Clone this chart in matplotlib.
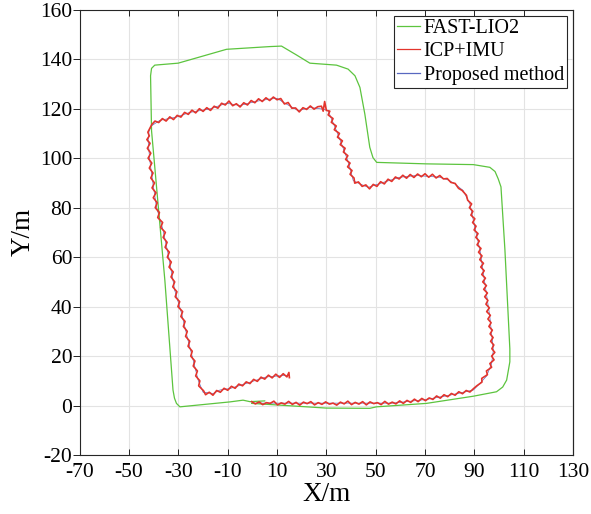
import matplotlib
matplotlib.use("Agg")
from matplotlib import pyplot as plt

plt.rcParams['font.family'] = ['Liberation Serif', 'DejaVu Serif']
plt.rcParams['axes.unicode_minus'] = False

# FAST-LIO2 trajectory
fast_x = [-0.3, 11.0, 30.0, 47.6, 50.3, 70.6, 89.6, 99.0, 101.5, 103.1, 104.4, 104.4, 102.4,
          100.8, 99.7, 98.4, 96.3, 89.6, 70.6, 50.4, 48.9, 47.6, 45.6, 43.6, 41.6, 38.8, 34.1,
          23.3, 17.9, 11.8, 7.1, -10.5, -30.1, -39.6, -40.9, -41.3, -40.9, -35.5, -32.2, -31.6,
          -30.8, -29.4, -9.1, -3.8, -1.0, 5.0]
fast_y = [0.9, 0.2, -1.0, -1.1, -0.5, 0.9, 3.8, 5.6, 7.5, 10.3, 17.7, 22.9, 63.0,
          88.4, 91.6, 94.6, 96.3, 97.4, 97.7, 98.3, 100.2, 104.4, 117.8, 128.6, 133.3, 136.0, 137.6,
          138.4, 141.7, 145.3, 145.1, 144.0, 138.4, 137.6, 136.3, 133.3, 111.1, 50.6, 6.3, 3.0,
          0.9, -0.5, 1.5, 2.2, 1.6, 1.9]

# ICP+IMU trajectory (noisy), segment by segment
icp_bottom_x = [-0.3, 1.2, 2.7, 4.2, 5.7, 7.2, 8.7, 10.2, 11.7, 13.2, 14.7, 16.2, 17.7, 19.2,
                20.7, 22.2, 23.7, 25.2, 26.7, 28.2, 29.7, 31.2, 32.7, 34.2, 35.7, 37.2, 38.7,
                40.2, 41.7, 43.2, 44.7, 46.2, 47.7, 49.2, 50.7, 52.2, 53.7, 55.2, 56.7, 58.2,
                59.7, 61.2, 62.7, 64.2, 65.7, 67.2, 68.7, 70.2, 71.7, 73.2, 74.7, 76.2, 77.7,
                79.2, 80.7, 82.2, 83.7, 85.2, 86.7, 88.2, 89.7]
icp_bottom_y = [1.6, 0.7, 1.5, 0.4, 1.2, 0.9, 1.8, 0.3, 1.1, 0.6,
                1.7, 0.5, 1.3, 0.2, 1.4, 0.8, 1.6, 0.3, 1.2, 0.5,
                1.5, 0.6, 1.0, 0.2, 1.4, 0.7, 1.8, 0.4, 1.3, 0.6,
                1.6, 0.3, 1.5, 0.8, 1.2, 0.4, 1.7, 0.6, 1.4, 0.7,
                1.9, 0.9, 2.1, 1.3, 2.6, 1.6, 2.9, 2.0, 3.1, 2.5,
                3.9, 3.0, 4.4, 3.6, 4.9, 4.2, 5.6, 4.8, 6.1, 5.5, 6.9]

icp_right_x = [91.0, 93.1, 93.0, 95.3, 94.9, 97.0, 96.3, 98.0, 97.0, 98.3, 97.1, 97.9, 96.6,
               97.6, 96.4, 97.3, 95.9, 96.8, 95.5, 96.5, 95.0, 96.1, 94.7, 95.5, 94.2, 95.3,
               93.8, 94.9, 93.4, 94.5, 93.0, 94.0, 92.6, 93.7, 92.2, 93.1, 91.7, 92.7, 91.1,
               92.0, 90.6, 91.5, 89.9, 90.7, 89.3, 90.2, 88.6, 89.4, 88.0, 88.9, 87.3,
               86.8, 85.0, 83.6, 82.2, 80.5, 79.0, 77.5]
icp_right_y = [8.0, 9.5, 11.0, 12.5, 14.0, 15.5, 17.0, 18.5, 20.0, 21.5, 23.0, 24.5, 26.0,
               27.5, 29.0, 30.5, 32.0, 33.5, 35.0, 36.5, 38.0, 39.5, 41.0, 42.5, 44.0, 45.5,
               47.0, 48.5, 50.0, 51.5, 53.0, 54.5, 56.0, 57.5, 59.0, 60.5, 62.0, 63.5, 65.0,
               66.5, 68.0, 69.5, 71.0, 72.5, 74.0, 75.5, 77.0, 78.5, 80.0, 81.5, 83.0,
               85.0, 87.0, 87.8, 89.8, 90.2, 91.8, 91.6]

icp_step_x = [76, 74.5, 73, 71.5, 70, 68.5, 67, 65.5, 64, 62.5, 61, 59.5, 58, 56.5, 55, 53.5,
              52, 50.5, 49, 47.5, 46, 44.5, 43, 41.5,
              41.2, 39.6, 40.4, 38.6, 39.6, 37.8, 38.7, 36.9, 37.6, 35.6, 36.5, 34.5, 35.3,
              33.2, 34.0, 32.0, 32.7, 30.7, 31.4,
              30.0, 29.3, 28.7, 28.0]
icp_step_y = [93.0, 92.0, 93.5, 92.3, 93.7, 92.5, 93.6, 92.2, 93.4, 91.9, 93.1, 91.6, 92.4,
              90.6, 91.5, 89.6, 90.5, 88.6, 89.4, 87.6, 89.2, 88.6, 90.4, 89.9,
              92.0, 93.5, 95.0, 96.5, 98.0, 99.5, 101.0, 102.5, 104.0, 105.5, 107.0, 108.5,
              110.0, 111.5, 113.0, 114.5, 116.0, 117.5, 119.0,
              119.3, 122.9, 119.0, 121.0]

icp_top_x = [26.5, 25, 23.5, 22, 20.5, 19, 17.5, 16, 14.5, 13,
             11.5, 10, 8.5, 7, 5.5, 4, 2.5, 1, -0.5, -2,
             -3.5, -5, -6.5, -8, -9.5, -11, -12.5, -14, -15.5, -17,
             -18.5, -20, -21.5, -23, -24.5, -26, -27.5, -29, -30.5, -32,
             -33.5, -35, -36.5, -38, -39.5,
             -40.8, -41.6, -42.4, -41.8, -42.8]
icp_top_y = [120.8, 119.8, 121.1, 119.7, 120.4, 118.7, 120.3, 120.2, 122.5, 121.9,
             124.1, 123.6, 124.7, 123.3, 124.4, 122.9, 124.0, 122.4, 123.3, 121.5,
             122.4, 120.7, 122.0, 121.2, 123.1, 121.5, 122.2, 120.2, 121.0, 119.3,
             120.4, 118.9, 120.0, 118.3, 119.4, 117.7, 118.5, 116.6, 117.3, 115.6,
             116.7, 115.0, 116.0, 114.4, 115.0,
             113.6, 112.0, 110.5, 109.0, 107.5]

icp_left_x = [-41.5, -42.6, -41.2, -42.3, -40.8, -41.8, -40.3, -41.2, -39.7, -40.7,
              -39.1, -40.2, -38.6, -39.4, -37.7, -38.4, -36.4, -37.2, -35.3, -36.2,
              -34.6, -35.4, -33.7, -34.5, -32.9, -33.8, -32.1, -33.0, -31.5, -32.3,
              -30.6, -31.3, -29.5, -30.2, -28.3, -29.0, -27.3, -28.0, -26.4, -27.1,
              -25.4, -26.1, -24.4, -25.0, -23.3, -24.0, -22.3, -23.0, -21.3, -21.8, -19.8]
icp_left_y = [106, 104, 102, 100, 98, 96, 94, 92, 90, 88,
              86, 84, 82, 80, 78, 76, 74, 72, 70, 68,
              66, 64, 62, 60, 58, 56, 54, 52, 50, 48,
              46, 44, 42, 40, 38, 36, 34, 32, 30, 28,
              26, 24, 22, 20, 18, 16, 14, 12, 10, 8, 6]

icp_tail_x = [-19, -17.5, -16, -14.5, -13, -11.5, -10, -8.5, -7, -5.5, -4, -2.5, -1, 0.5, 2,
              3.5, 5, 6.5, 8, 9.5, 11, 12.5, 14, 14.8, 15.0]
icp_tail_y = [4.4, 5.4, 4.2, 6.1, 5.4, 7.0, 6.2, 7.8, 7.0, 8.7, 8.0, 9.6, 8.9, 10.6, 9.8,
              11.5, 10.7, 12.3, 11.2, 12.7, 11.4, 12.9, 11.6, 13.4, 11.3]

icp_x = icp_bottom_x + icp_right_x + icp_step_x + icp_top_x + icp_left_x + icp_tail_x
icp_y = icp_bottom_y + icp_right_y + icp_step_y + icp_top_y + icp_left_y + icp_tail_y

# Proposed method (hidden under the ICP+IMU curve)
prop_x = [-0.3, 20.0, 43.6, 57.0, 70.6, 80.0, 89.6, 92.3, 95.0, 97.0, 97.7, 96.3, 94.3, 92.3,
          90.2, 88.2, 85.5, 82.1, 79.4, 76.0, 66.6, 59.8, 53.0, 47.0, 43.6, 40.9, 39.5, 38.2,
          36.2, 34.1, 32.1, 30.7, 28.7, 23.3, 18.6, 12.5, 10.0, 7.1, 1.7, -5.1, -10.5, -17.3,
          -25.4, -30.8, -37.5, -40.9, -41.9, -42.3, -41.6, -40.3, -38.9, -36.2, -34.2, -32.2,
          -31.5, -28.7, -26.1, -24.0, -22.0, -20.0, -15.9, -13.2, -9.1, -2.4, 5.7, 14.5]
prop_y = [1.0, 1.0, 1.0, 1.0, 2.5, 4.2, 6.3, 9.0, 12.0, 17.0, 22.4, 35.8, 49.3, 62.7,
          72.1, 81.5, 86.9, 89.6, 91.2, 92.3, 93.0, 92.3, 90.2, 88.2, 89.6, 90.9, 96.3, 100.3,
          105.7, 111.1, 115.8, 119.2, 119.8, 120.5, 119.2, 122.6, 124.2, 123.9, 123.0, 121.3,
          122.2, 119.9, 118.5, 116.6, 115.3, 113.1, 111.1, 107.1, 99.0, 89.6, 80.2, 70.8, 61.4,
          50.6, 46.6, 37.2, 26.4, 18.3, 10.3, 5.4, 4.9, 6.3, 6.9, 9.0, 11.6, 12.3]

x_ticks = list(range(-70, 131, 20))
y_ticks = list(range(-20, 161, 20))

fig = plt.figure(figsize=(5.91, 5.14), dpi=100)
ax = fig.add_axes([0.135, 0.1146, 0.8345, 0.8665])

ax.plot(fast_x, fast_y, color='#5cc43e', linewidth=0.9, label='FAST-LIO2', zorder=3)
ax.plot(icp_x, icp_y, color='#e3342c', linewidth=1.2, label='ICP+IMU', zorder=4)
ax.plot(prop_x, prop_y, color='#5868c0', linewidth=0.5, label='Proposed method', zorder=2)

ax.set_xlim(-70, 130)
ax.set_ylim(-20, 160)
ax.set_xticks(x_ticks)
ax.set_yticks(y_ticks)
ax.grid(True, color='#e3e3e3', linewidth=0.8)
ax.set_axisbelow(True)
ax.tick_params(axis='x', direction='in', top=True, labelsize=15.5, length=4.5,
               width=0.6, pad=6)
ax.tick_params(axis='y', direction='out', right=False, labelsize=15.5, length=4.7,
               width=0.6, pad=0.8)
# right-hand ticks point inward
sec = ax.secondary_yaxis('right')
sec.set_yticks(y_ticks)
sec.tick_params(direction='in', length=4.5, width=0.6, labelright=False)
sec.spines['right'].set_linewidth(0.8)
sec.spines['right'].set_color('#262626')
for sp in ax.spines.values():
    sp.set_linewidth(0.8)
    sp.set_color('#262626')

ax.set_xlabel('X/m', fontsize=19.5, labelpad=0)
ax.set_ylabel('Y/m', fontsize=19.5, labelpad=3)

leg = ax.legend(loc='upper right', fontsize=14.5, handlelength=1.1, handletextpad=0.2,
                borderpad=0.15, labelspacing=0.22, borderaxespad=0.3, fancybox=False,
                framealpha=1)
leg.get_frame().set_edgecolor('#262626')
leg.get_frame().set_linewidth(0.8)
leg.set_zorder(10)
for line in leg.get_lines():
    line.set_linewidth(0.9)

fig.savefig('out.png', dpi=100)
